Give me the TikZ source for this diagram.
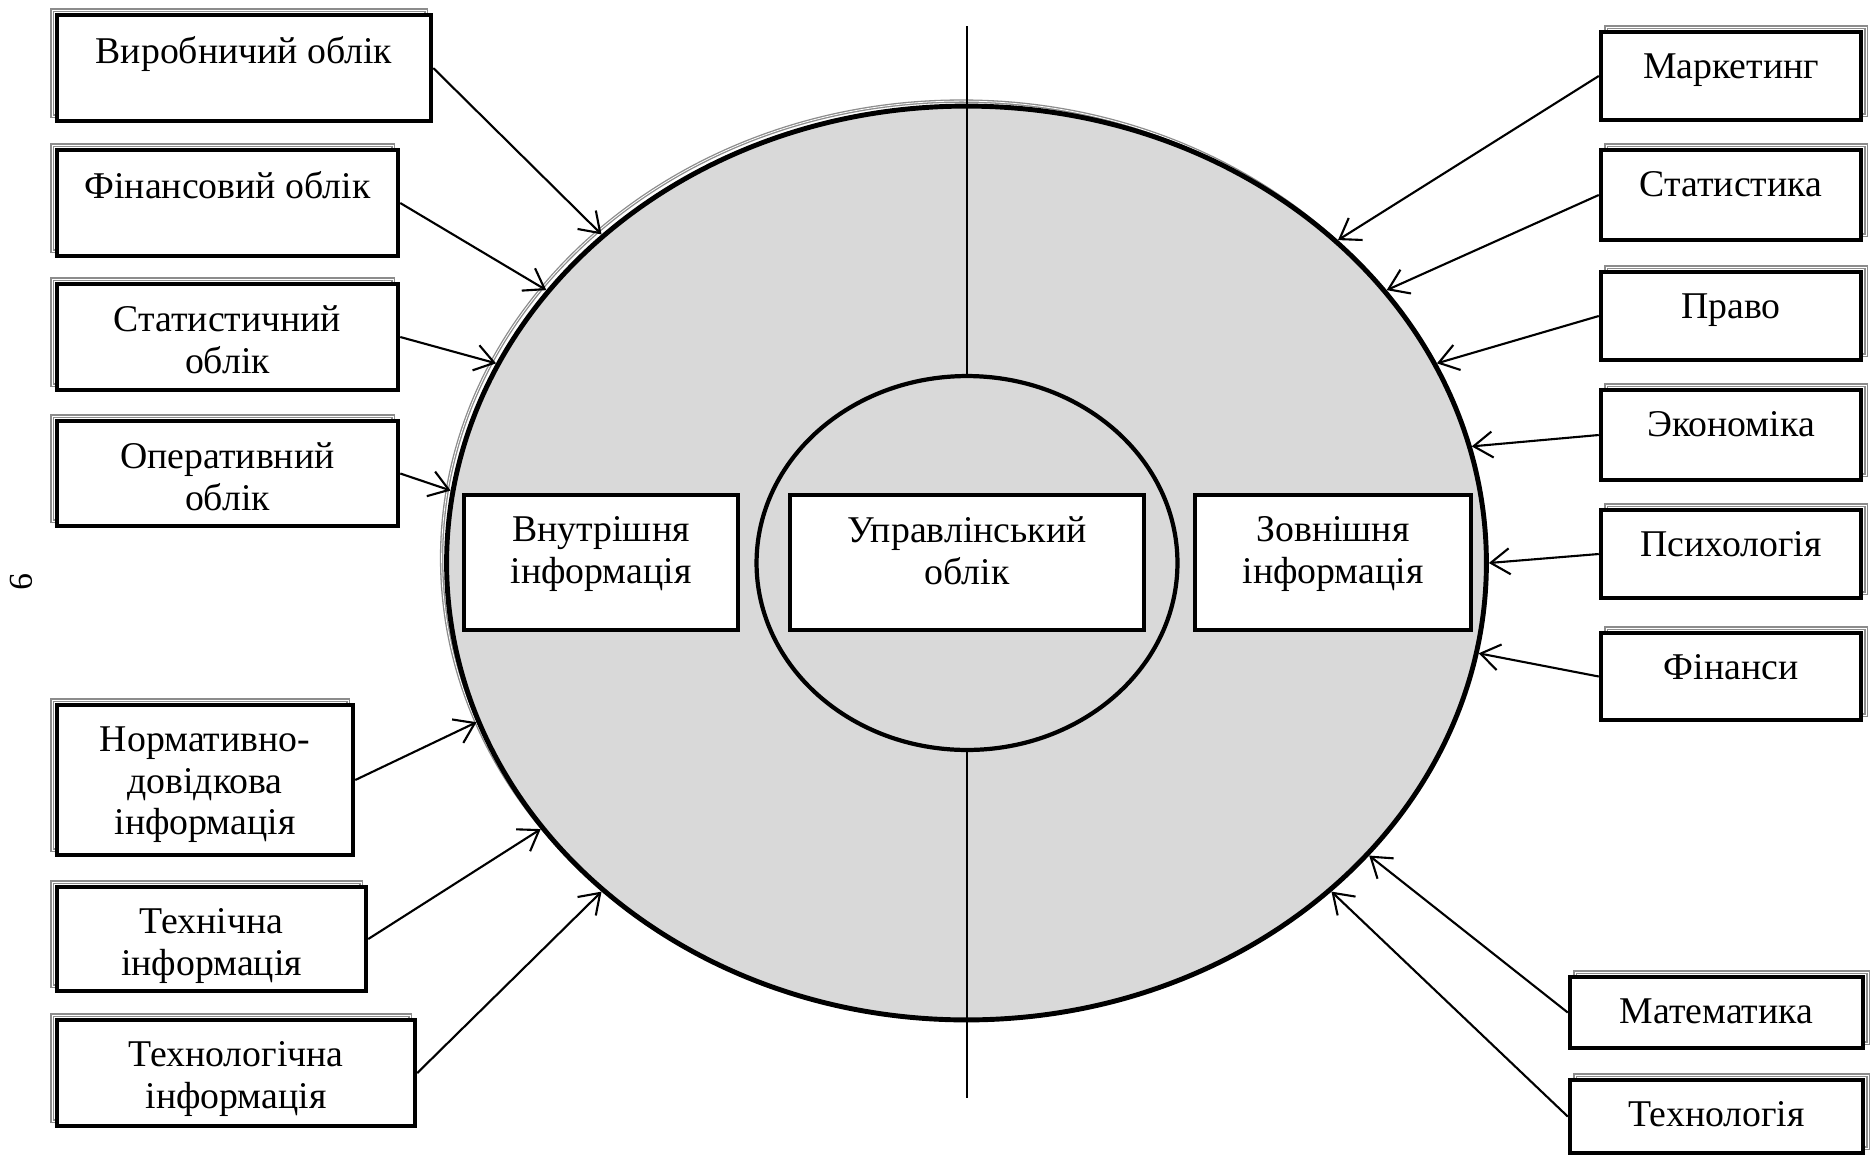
\documentclass[tikz,border=0pt]{standalone}
\usepackage{fontspec}
\setmainfont{Liberation Serif}
\usepackage{xcolor}
\usetikzlibrary{shapes.geometric,shadows,arrows.meta}
\definecolor{fillgray}{HTML}{D9D9D9}
\definecolor{shadegray}{HTML}{8C8C8C}

\begin{document}
\begin{tikzpicture}[x=0.02cm,y=-0.02cm]
\tikzstyle{every node}+=[inner sep=0pt, font=\fontsize{21.5}{23.8}\selectfont]
\tikzstyle{lshadow}=[general shadow={shadow xshift=-0.1cm, shadow yshift=0.1cm, fill=none, draw=shadegray, double=white, double distance=0.45pt, line width=0.75pt}]
\tikzstyle{rshadow}=[general shadow={shadow xshift=0.1cm, shadow yshift=0.1cm, fill=none, draw=shadegray, double=white, double distance=0.45pt, line width=0.75pt}]
\tikzstyle{srcbox}=[draw, fill=white, line width=2.6pt]
\tikzstyle{lbox}=[srcbox, lshadow]
\tikzstyle{rbox}=[srcbox, rshadow, minimum width=5.2cm]
\tikzstyle{txt}=[anchor=north, align=center, yshift=-0.47cm]
\tikzstyle{link}=[line width=1.2pt, -{Straight Barb[length=0.38cm, width=0.52cm]}]
\useasboundingbox (0,0) rectangle (1872,1157);
% page number
\node[rotate=-90, font=\fontsize{19}{19}\selectfont] (pagenum) at (21,582) {9};
% circles
\node[ellipse, draw, fill=fillgray, line width=2.8pt, minimum width=20.8cm, minimum height=18.28cm, lshadow] (outer) at (966.5,563) {};
\coordinate (axtop) at (967,26);
\coordinate (axbot) at (967,1098);
\node[ellipse, draw, line width=2.4pt, minimum width=8.42cm, minimum height=7.48cm] (inner) at (967,563) {};
\draw[line width=1.2pt] (axtop) -- (inner.north);
\draw[line width=1.2pt] (inner.south) -- (axbot);
% inner boxes
\node[srcbox, minimum width=5.48cm, minimum height=2.7cm, label={[txt]north:Внутрішня\\інформація}] (vnutr) at (601,562.5) {};
\node[srcbox, minimum width=7.08cm, minimum height=2.7cm, label={[txt]north:Управлінський\\облік}] (upr) at (967,562.5) {};
\node[srcbox, minimum width=5.52cm, minimum height=2.7cm, label={[txt]north:Зовнішня\\інформація}] (zovn) at (1333,562.5) {};
% left boxes
\node[lbox, minimum width=7.48cm, minimum height=2.12cm, label={[txt]north:Виробничий облік}] (vyrob) at (244,68) {};
\node[lbox, minimum width=6.82cm, minimum height=2.12cm, label={[txt]north:Фінансовий облік}] (finob) at (227.5,203) {};
\node[lbox, minimum width=6.82cm, minimum height=2.12cm, label={[txt]north:Статистичний\\облік}] (statob) at (227.5,337) {};
\node[lbox, minimum width=6.82cm, minimum height=2.1cm, label={[txt]north:Оперативний\\облік}] (operob) at (227.5,473.5) {};
\node[lbox, minimum width=5.92cm, minimum height=3cm, label={[txt]north:Нормативно-\\довідкова\\інформація}] (normdov) at (205,780) {};
\node[lbox, minimum width=6.18cm, minimum height=2.08cm, label={[txt]north:Технічна\\інформація}] (tekhinf) at (211.5,939) {};
\node[lbox, minimum width=7.16cm, minimum height=2.12cm, label={[txt]north:Технологічна\\інформація}] (tekhlinf) at (236,1073) {};
% right boxes
\node[rbox, minimum height=1.76cm, label={[txt]north:Маркетинг}] (market) at (1731,76) {};
\node[rbox, minimum height=1.8cm, label={[txt]north:Статистика}] (statyst) at (1731,195) {};
\node[rbox, minimum height=1.76cm, label={[txt]north:Право}] (pravo) at (1731,316) {};
\node[rbox, minimum height=1.8cm, label={[txt]north:Экономіка}] (ekon) at (1731,435) {};
\node[rbox, minimum height=1.76cm, label={[txt]north:Психологія}] (psykh) at (1731,554) {};
\node[rbox, minimum height=1.74cm, label={[txt]north:Фінанси}] (finansy) at (1731,676.5) {};
\node[rbox, minimum width=5.86cm, minimum height=1.42cm, label={[txt]north:Математика}] (matem) at (1716.5,1012.5) {};
\node[rbox, minimum width=5.86cm, minimum height=1.46cm, label={[txt]north:Технологія}] (tekhnol) at (1716.5,1116.5) {};
% arrows
\draw[link] (vyrob.east) -- (outer.138);
\draw[link] (finob.east) -- (outer.147);
\draw[link] (statob.east) -- (outer.157);
\draw[link] (operob.east) -- (outer.172);
\draw[link] (normdov.east) -- (outer.198);
\draw[link] (tekhinf.east) -- (outer.212);
\draw[link] (tekhlinf.east) -- (outer.222);
\draw[link] (market.west) -- (outer.41);
\draw[link] (statyst.west) -- (outer.33);
\draw[link] (pravo.west) -- (outer.23);
\draw[link] (ekon.west) -- (outer.13);
\draw[link] (psykh.west) -- (outer.0);
\draw[link] (finansy.west) -- (outer.350);
\draw[link] (matem.west) -- (outer.324);
\draw[link] (tekhnol.west) -- (outer.318);
\end{tikzpicture}
\end{document}
